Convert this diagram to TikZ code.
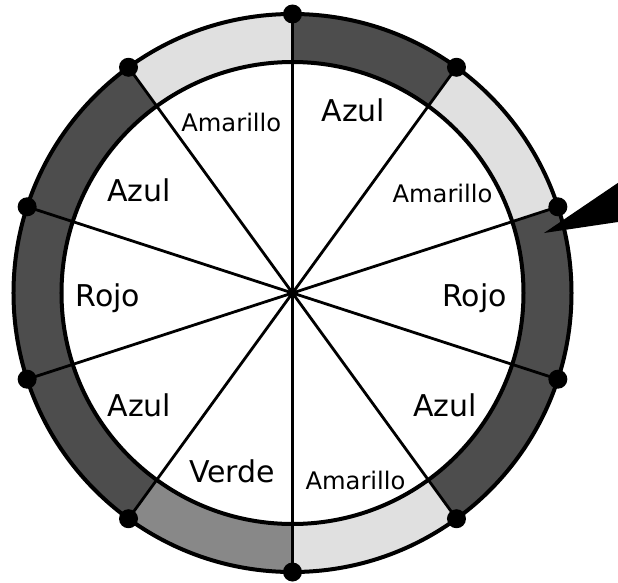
\documentclass[tikz,border=0pt]{standalone}
\usepackage{fontspec}
\setmainfont{DejaVu Sans}
\definecolor{ringlight}{RGB}{224,224,224}
\definecolor{ringdark}{RGB}{77,77,77}
\definecolor{ringmid}{RGB}{136,136,136}
\begin{document}
\begin{tikzpicture}[x=1pt,y=1pt,
  big/.style={font=\fontsize{30}{32}\selectfont, anchor=base, inner sep=0pt},
  small/.style={font=\fontsize{24.2}{26}\selectfont, anchor=base, inner sep=0pt},
  spoke/.style={line width=2.8pt},
  rim/.style={line width=4pt},
  pin/.style={fill=black}]
\useasboundingbox (-292.5,-289) rectangle (325.5,293);
\coordinate (c) at (0,0);
% ring sectors
\foreach \a/\col in {54/ringdark, 18/ringlight, -18/ringdark, -54/ringdark, -90/ringlight, -126/ringmid, -162/ringdark, 162/ringdark, 126/ringdark, 90/ringlight}
  \fill[\col] (c) -- (\a:279) arc[start angle=\a, delta angle=36, radius=279] -- cycle;
\fill[white] (c) circle (231);
% spokes
\foreach \a [count=\i] in {90,54,18,-18,-54,-90,-126,-162,162,126}
  \coordinate (d\i) at (\a:279);
\foreach \i in {1,...,10}
  \draw[spoke] (c) -- (d\i);
\draw[rim] (c) circle (279);
\draw[rim] (c) circle (231);
\foreach \i in {1,...,10}
  \fill (d\i) circle (9.5);
% pointer
\coordinate (tip) at (251.5,60);
\coordinate (pu) at (337.5,118.3);
\coordinate (pl) at (337.5,72.8);
\fill[pin] (tip) -- (pu) -- (pl) -- cycle;
% labels
\node[small] (l1) at (-61.2,161.3) {Amarillo};
\node[big]   (l2) at (61,171.3) {Azul};
\node[small] (l3) at (150,91) {Amarillo};
\node[big]   (l4) at (182,-13.7) {Rojo};
\node[big]   (l5) at (152.5,-123) {Azul};
\node[small] (l6) at (63,-196) {Amarillo};
\node[big]   (l7) at (-60.5,-189.7) {Verde};
\node[big]   (l8) at (-153,-123) {Azul};
\node[big]   (l9) at (-184.5,-13.7) {Rojo};
\node[big]   (l10) at (-153.5,92) {Azul};
\end{tikzpicture}
\end{document}
